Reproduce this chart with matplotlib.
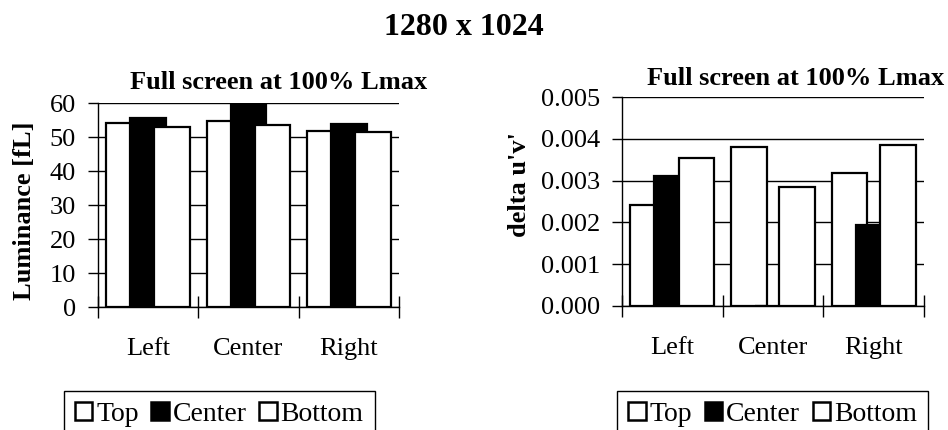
import numpy as np
import matplotlib
matplotlib.use("Agg")
import matplotlib.pyplot as plt
from matplotlib.patches import Patch

plt.rcParams['font.family'] = ['Liberation Serif', 'DejaVu Serif']

categories = ["Left", "Center", "Right"]
series = ["Top", "Center", "Bottom"]
lum_top = [54.1, 54.7, 51.8]
lum_center = [55.7, 62.0, 53.7]
lum_bottom = [52.8, 53.4, 51.5]
duv_top = [0.00242, 0.00380, 0.00318]
duv_center = [0.00311, 0.0, 0.00194]
duv_bottom = [0.00354, 0.00284, 0.00384]

W, H = 948, 430
fig = plt.figure(figsize=(W / 100, H / 100), dpi=100)

def px_axes(x0, x1, y0, y1):
    # y0 top pixel, y1 bottom pixel
    return fig.add_axes([x0 / W, 1 - y1 / H, (x1 - x0) / W, (y1 - y0) / H])

def bars(ax, vals_list, ymax, yticks, fmt):
    x = np.arange(len(categories))
    step, w = 0.24, 0.355
    colors = ["white", "black", "white"]
    for k, (vals, c) in enumerate(zip(vals_list, colors)):
        ax.bar(x + (k - 1) * step, vals, width=w, color=c, edgecolor="black",
               linewidth=1.6, zorder=3 + k)
    ax.set_xlim(-0.5, 2.5)
    ax.set_ylim(0, ymax)
    ax.set_yticks(yticks)
    ax.set_yticklabels([fmt(v) for v in yticks], fontsize=19)
    ax.yaxis.grid(True, color="black", linewidth=1.0, zorder=0)
    ax.set_axisbelow(True)
    ax.set_xticks(x)
    ax.set_xticklabels(categories, fontsize=19)
    ax.set_xticks([-0.5, 0.5, 1.5, 2.5], minor=True)
    ax.tick_params(axis="x", which="major", length=0, pad=22)
    ax.tick_params(axis="x", which="minor", direction="inout", length=16, width=1)
    ax.tick_params(axis="y", direction="out", length=7, width=1, pad=9)
    for s in ["top", "right"]:
        ax.spines[s].set_visible(False)
    for s in ["left", "bottom"]:
        ax.spines[s].set_linewidth(1.0)

ax1 = px_axes(98, 399, 103, 307)
bars(ax1, [lum_top, lum_center, lum_bottom], 60, np.arange(0, 61, 10), lambda v: f"{v:g}")
ax2 = px_axes(622, 924, 97, 306)
bars(ax2, [duv_top, duv_center, duv_bottom], 0.005, np.linspace(0, 0.005, 6), lambda v: f"{v:.3f}")

fig.text(464 / W, 1 - 35 / H, "1280 x 1024", ha="center", va="baseline",
         fontsize=23, fontweight="bold")
fig.text(279 / W, 1 - 89 / H, "Full screen at 100% Lmax", ha="center", va="baseline",
         fontsize=19, fontweight="bold")
fig.text(796 / W, 1 - 85 / H, "Full screen at 100% Lmax", ha="center", va="baseline",
         fontsize=19, fontweight="bold")
fig.text(25 / W, 1 - 211 / H, "Luminance [fL]", rotation=90, ha="center", va="center",
         fontsize=19, fontweight="bold")
fig.text(520 / W, 1 - 184 / H, "delta u'v'", rotation=90, ha="center", va="center",
         fontsize=19, fontweight="bold")

handles = [Patch(facecolor=c, edgecolor="black", linewidth=1.8) for c in ["white", "black", "white"]]
for cx in [219.3 / W, 772.7 / W]:
    leg = fig.legend(handles, series, loc="upper center", bbox_to_anchor=(cx, 1 - 390.5 / H),
                     ncol=3, fontsize=20, frameon=True, fancybox=False, framealpha=1,
                     edgecolor="black", handlelength=0.62, handleheight=0.62,
                     handletextpad=0.15, columnspacing=0.45, borderpad=0.4,
                     borderaxespad=0)
    leg.get_frame().set_linewidth(1.0)

fig.savefig("out.png", dpi=100)
